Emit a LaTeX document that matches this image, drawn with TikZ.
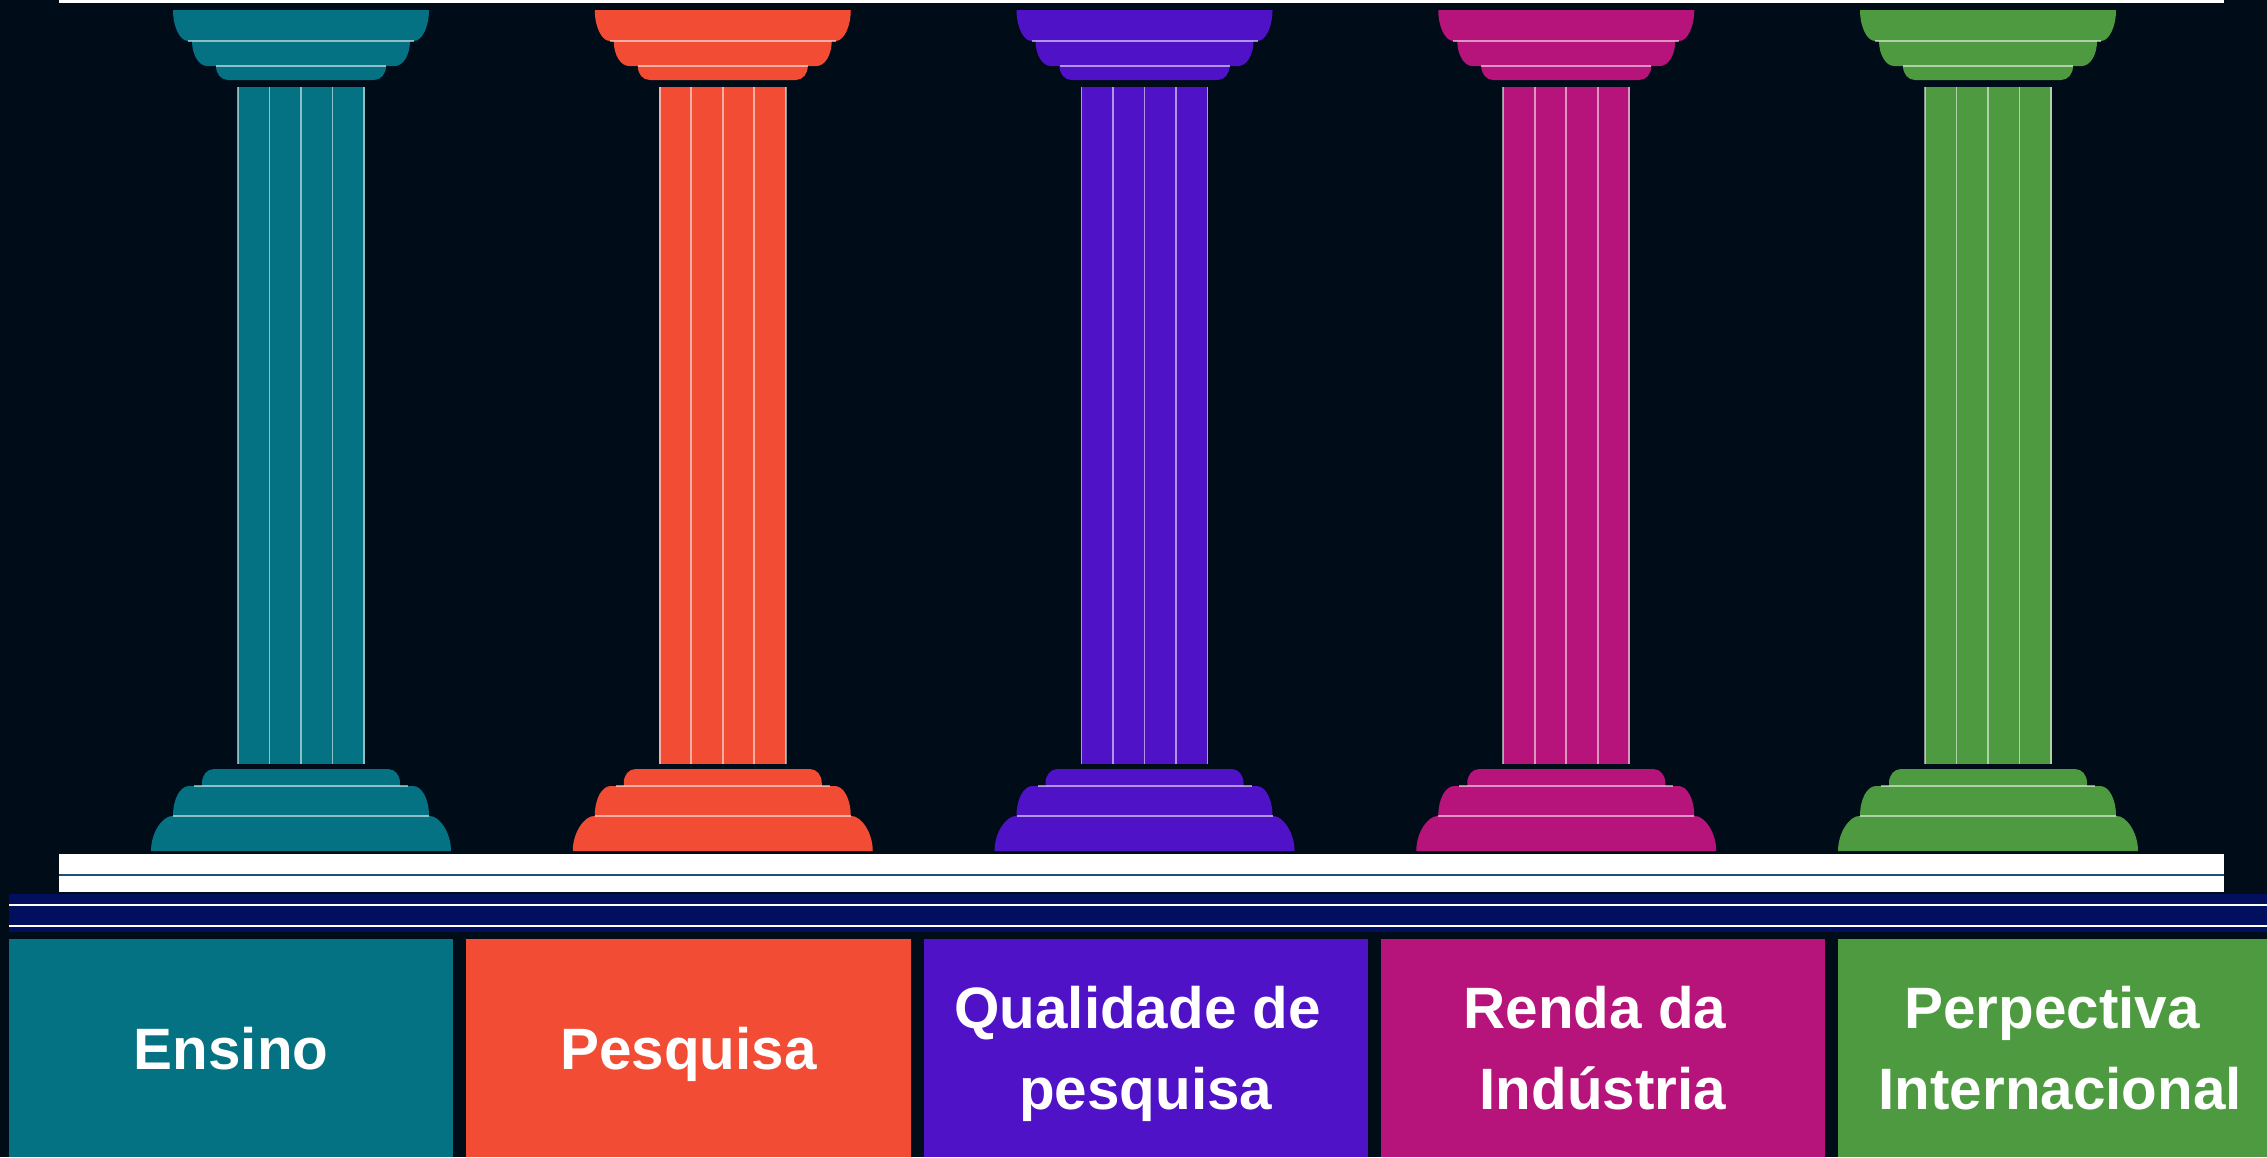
\documentclass[tikz,border=0pt]{standalone}
\usepackage{fontspec}
\setmainfont{Liberation Sans}
\usetikzlibrary{positioning}

\definecolor{bg}{RGB}{0,12,24}
\definecolor{teal1}{RGB}{4,114,130}
\definecolor{red1}{RGB}{242,76,53}
\definecolor{purple1}{RGB}{80,18,198}
\definecolor{pink1}{RGB}{182,19,123}
\definecolor{green1}{RGB}{78,154,64}
\definecolor{navy1}{RGB}{2,15,94}
\definecolor{line1}{RGB}{31,78,121}

\tikzset{
  flute/.style={draw=white, draw opacity=0.55, line width=0.45pt},
  boxlabel/.style={minimum width=4.44cm, minimum height=2.18cm, inner sep=0pt, outer sep=0pt,
    text=white, align=center, text depth=0pt, font=\fontsize{16.6}{23}\selectfont\bfseries}
}

\begin{document}
\begin{tikzpicture}[x=0.01cm, y=-0.01cm]
\useasboundingbox (0,0) rectangle (2267,1157);
\fill[bg] (0,0) rectangle (2267,1157);
\fill[white] (59,0) rectangle (2224,3);

\foreach \i/\col in {0/teal1,1/red1,2/purple1,3/pink1,4/green1}{
  \begin{scope}[shift={(301+421.75*\i,0)}]
    % capital
    \fill[\col] (-128,10) -- (128,10) .. controls (128,27) and (121,41) .. (113,41) -- (-113,41) .. controls (-121,41) and (-128,27) .. (-128,10) -- cycle;
    \fill[\col] (-109,41) -- (109,41) .. controls (109,55) and (102,66) .. (94,66) -- (-94,66) .. controls (-102,66) and (-109,55) .. (-109,41) -- cycle;
    \fill[\col] (-85,66) -- (85,66) .. controls (85,74) and (80,80) .. (73,80) -- (-73,80) .. controls (-80,80) and (-85,74) .. (-85,66) -- cycle;
    \draw[flute] (-113,41) -- (113,41);
    \draw[flute] (-85,66) -- (85,66);
    % shaft
    \fill[\col] (-63.5,87) rectangle (63.5,764);
    \foreach \f in {-63,-31.5,0,31.5,63}
      \draw[flute] (\f,87) -- (\f,764);
    % base
    \fill[\col] (-99,786) -- (-99,783) .. controls (-99,775) and (-94,769) .. (-87,769) -- (87,769) .. controls (94,769) and (99,775) .. (99,783) -- (99,786) -- cycle;
    \fill[\col] (-128,816) .. controls (-128,799) and (-121,786) .. (-112,786) -- (112,786) .. controls (121,786) and (128,799) .. (128,816) -- cycle;
    \fill[\col] (-150,851) .. controls (-150,832) and (-138,816) .. (-129,816) -- (129,816) .. controls (138,816) and (150,832) .. (150,851) -- cycle;
    \draw[flute] (-107,786) -- (107,786);
    \draw[flute] (-128,816) -- (128,816);
  \end{scope}
}

\fill[white] (59,854) rectangle (2224,892);
\draw[line1, line width=0.5pt] (59,875) -- (2224,875);
\fill[navy1] (9,894) rectangle (2267,932);
\draw[white, line width=0.55pt] (9,905) -- (2267,905);
\draw[white, line width=0.55pt] (9,926) -- (2267,926);

\node[boxlabel, fill=teal1, anchor=north west] (l1) at (9,939) {Ensino};
\node[boxlabel, fill=red1, right=0.13cm of l1] (l2) {Pesquisa};
\node[boxlabel, fill=purple1, right=0.13cm of l2] (l3) {Qualidade de\hphantom{\ }\\pesquisa};
\node[boxlabel, fill=pink1, right=0.13cm of l3] (l4) {Renda da\hphantom{\ }\\Indústria};
\node[boxlabel, fill=green1, right=0.13cm of l4] (l5) {Perpectiva\hphantom{\ }\\Internacional};
\end{tikzpicture}
\end{document}
